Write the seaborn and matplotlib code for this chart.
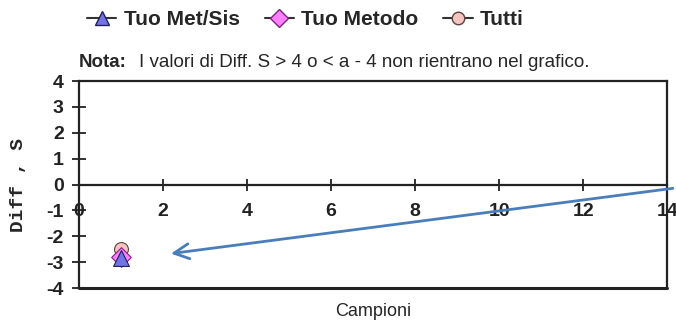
import numpy as np
import pandas as pd
import seaborn as sns
import matplotlib.pyplot as plt
from matplotlib.lines import Line2D

# data
series = ['Tuo Met/Sis', 'Tuo Metodo', 'Tutti']
campioni = [1, 1, 1]
diff_s = [-2.85, -2.8, -2.5]
markers = ['^', 'D', 'o']
face_colors = ['#7373e6', '#ff80ff', '#f4c4c0']
edge_colors = ['#202060', '#802080', '#604040']
x_ticks = [0, 2, 4, 6, 8, 10, 12, 14]
y_ticks = [-4, -3, -2, -1, 0, 1, 2, 3, 4]

df = pd.DataFrame({'series': series, 'x': campioni, 'y': diff_s})

sns.set_theme(style='white')
plt.rcParams['font.family'] = ['Liberation Sans', 'DejaVu Sans']
plt.rcParams['axes.unicode_minus'] = False

fig = plt.figure(figsize=(6.76, 3.23), dpi=100)
ax = fig.add_axes([0.117, 0.108, 0.870, 0.641])

# draw so the triangle ends up on top, like the original
order = [2, 1, 0]
for i in order:
    sub = df[df['series'] == series[i]]
    sns.scatterplot(data=sub, x='x', y='y', marker=markers[i], s=130 if i == 0 else 100,
                    color=face_colors[i], edgecolor=edge_colors[i], linewidth=0.8,
                    ax=ax, zorder=3 + (2 - i), legend=False)

ax.set_xlim(0, 14)
ax.set_ylim(-4, 4)
ax.set_xticks(x_ticks)
ax.set_yticks(y_ticks)
ax.set_xlabel('Campioni', fontsize=13)
ax.xaxis.set_label_coords(0.5, -0.07)
ax.set_ylabel('Diff , S', fontsize=14, fontweight='bold', family='Liberation Mono')
ax.yaxis.set_label_coords(-0.088, 0.5)

for sp in ax.spines.values():
    sp.set_color('#222222')
    sp.set_linewidth(1.6)
ax.spines['bottom'].set_position(('data', 0))
ax.axhline(-4, color='#222222', lw=2.2, clip_on=False, zorder=5)

ax.tick_params(axis='y', direction='inout', length=10, width=1.3, left=True,
               labelsize=14, pad=6, colors='#222222')
ax.tick_params(axis='x', direction='inout', length=9, width=1.3, bottom=True,
               labelsize=14, pad=9, colors='#222222')
for lbl in ax.get_xticklabels() + ax.get_yticklabels():
    lbl.set_fontweight('bold')

handles = [Line2D([0], [0], color='#333333', lw=1.5, marker=markers[i], markersize=10 if i == 0 else 9,
                  markerfacecolor=face_colors[i], markeredgecolor=edge_colors[i])
           for i in range(3)]
leg = fig.legend(handles, series, loc='center', bbox_to_anchor=(0.452, 0.94), ncol=3,
                 frameon=False, prop={'weight': 'bold', 'size': 15},
                 handlelength=1.4, columnspacing=1.2, handletextpad=0.35)

fig.text(0.117, 0.808, 'Nota:', fontsize=13.5, fontweight='bold', va='center')
fig.text(0.205, 0.808, 'I valori di Diff. S > 4 o < a - 4 non rientrano nel grafico.',
         fontsize=13.5, va='center')

ax.annotate('', xy=(2.12, -2.68), xytext=(14.2, -0.13), annotation_clip=False,
            arrowprops=dict(arrowstyle='->,head_length=0.9,head_width=0.45',
                            color='#4a7ebb', lw=2))

fig.savefig('out.png', dpi=100)
